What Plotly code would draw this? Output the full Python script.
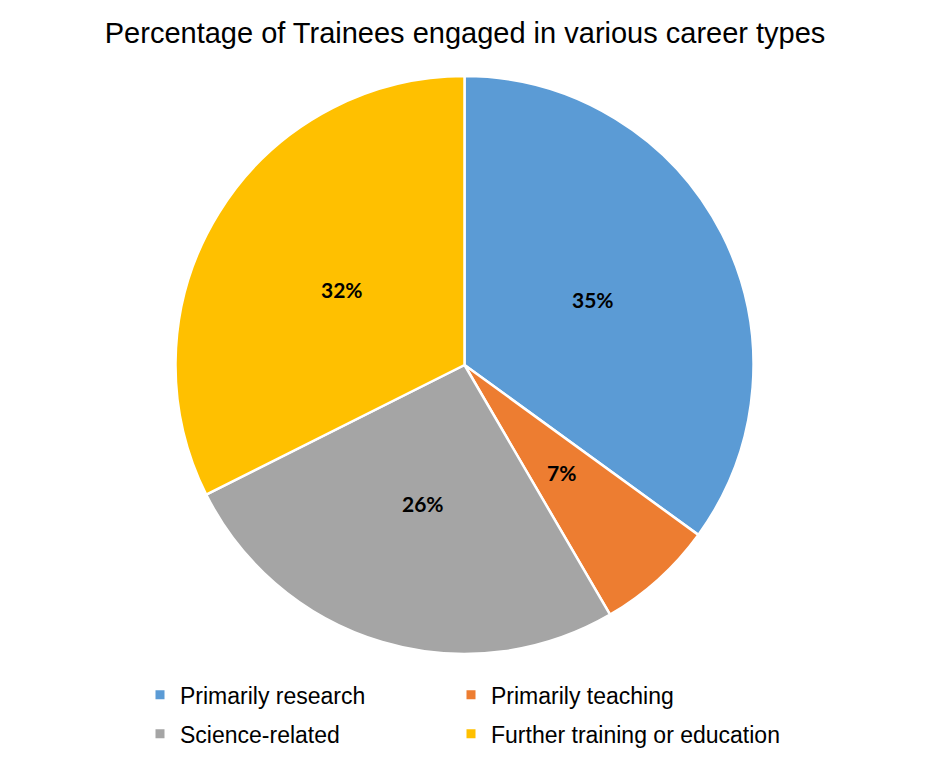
import math
import plotly.graph_objects as go

# datos del gráfico
categorias = ['Primarily research', 'Primarily teaching', 'Science-related', 'Further training or education']
porcentajes = [35.0, 6.6, 26.0, 32.4]
colores = ['#5B9BD5', '#ED7D31', '#A5A5A5', '#FFC000']
columna_leyenda = ['legend', 'legend2', 'legend', 'legend2']

ANCHO, ALTO = 929, 763
# el body de la página tiene 8px de margen, se compensa aquí
margen = dict(l=0, r=16, t=68, b=117)
ancho_dom = ANCHO - margen['l'] - margen['r']
alto_dom = ALTO - margen['t'] - margen['b']
radio = min(ancho_dom, alto_dom) / 2

fig = go.Figure()

fig.add_trace(go.Pie(
    labels=categorias,
    values=porcentajes,
    sort=False,
    direction='clockwise',
    rotation=0,
    marker=dict(colors=colores, line=dict(color='white', width=2.5)),
    textinfo='none',
    hoverinfo='label+percent',
    showlegend=False,
))

# leyenda en dos columnas con marcadores cuadrados pequeños
for cat, color, leyenda in zip(categorias, colores, columna_leyenda):
    fig.add_trace(go.Scatter(
        x=[None], y=[None],
        mode='markers',
        marker=dict(symbol='square', size=9, color=color),
        name=cat,
        legend=leyenda,
        legendgroup=cat,
    ))

# etiquetas a media distancia del radio, como en Excel
total = sum(porcentajes)
acumulado = 0
for v in porcentajes:
    medio = (acumulado + v / 2) / total * 2 * math.pi
    acumulado += v
    fig.add_annotation(
        x=0.5 + 0.5 * radio * math.sin(medio) / ancho_dom,
        y=0.5 + 0.5 * radio * math.cos(medio) / alto_dom,
        xref='paper', yref='paper',
        xanchor='center', yanchor='middle',
        text=f'{round(v / total * 100)}%',
        showarrow=False,
        font=dict(family='Lato', size=21, color='black', weight='bold'),
    )

estilo_leyenda = dict(
    orientation='v',
    y=-0.0335, yanchor='top',
    xanchor='left',
    tracegroupgap=6,
    traceorder='grouped',
    font=dict(family='Liberation Sans', size=23, color='black'),
    itemwidth=30,
    bgcolor='rgba(0,0,0,0)',
)

fig.update_layout(
    title=dict(
        text='Percentage of Trainees engaged in various career types',
        x=0.492, xanchor='center', y=0.967, yanchor='middle',
        font=dict(family='Liberation Sans', size=29, color='black'),
    ),
    width=ANCHO,
    height=ALTO,
    margin=margen,
    paper_bgcolor='white',
    plot_bgcolor='white',
    xaxis=dict(visible=False),
    yaxis=dict(visible=False),
    showlegend=True,
    legend=dict(estilo_leyenda, x=132 / ancho_dom),
    legend2=dict(estilo_leyenda, x=443 / ancho_dom),
)

fig.write_html('out.html')
